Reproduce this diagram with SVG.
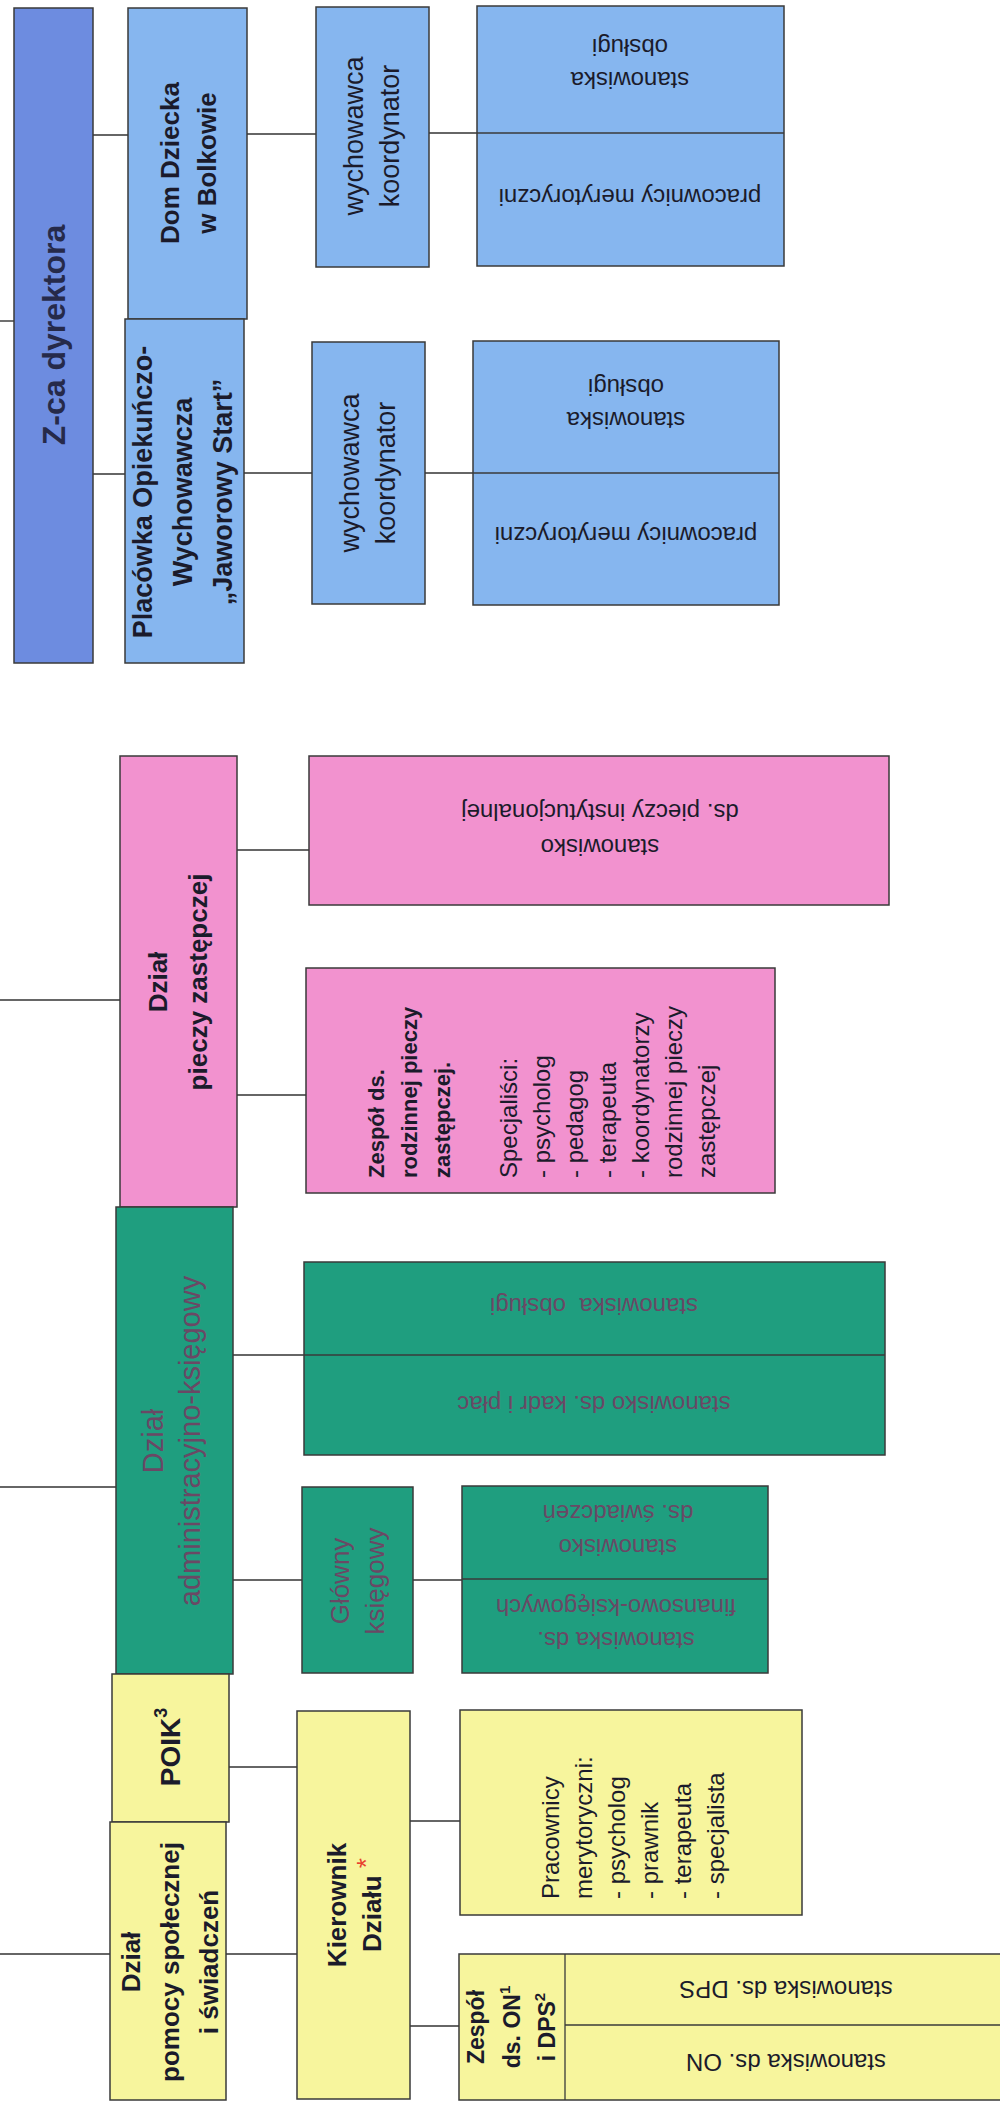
<svg xmlns="http://www.w3.org/2000/svg" width="1000" height="2102" viewBox="0 0 1000 2102">
<style>
.box{stroke:#3a3a3a;stroke-width:1.5}
.div{stroke:#3a3a3a;stroke-width:1.3}
.zca{fill:#6d8ce0}
.blue{fill:#86b6ef}
.pink{fill:#f292cf}
.green{fill:#1f9e7f}
.yellow{fill:#f7f59d}
.c{stroke:#333;stroke-width:1.4;fill:none}
text{font-family:"Liberation Sans",Arial,sans-serif;dominant-baseline:central;fill:#1b1b2b}
.r24{font-size:24px}
.r26{font-size:26px}
.b22{font-size:22px;font-weight:bold}
.b26{font-size:26px;font-weight:bold}
.gt{fill:#6a4865}
.m{text-anchor:middle}
</style>
<rect width="1000" height="2102" fill="#ffffff"/>

<g id="connectors">
<line class="c" x1="0" y1="321" x2="14" y2="321"/>
<line class="c" x1="93" y1="135" x2="128" y2="135"/>
<line class="c" x1="92" y1="474" x2="125" y2="474"/>
<line class="c" x1="247" y1="134" x2="316" y2="134"/>
<line class="c" x1="429" y1="133" x2="477" y2="133"/>
<line class="c" x1="244" y1="473" x2="312" y2="473"/>
<line class="c" x1="425" y1="473" x2="473" y2="473"/>
<line class="c" x1="0" y1="1000" x2="120" y2="1000"/>
<line class="c" x1="237" y1="850" x2="309" y2="850"/>
<line class="c" x1="237" y1="1095" x2="306" y2="1095"/>
<line class="c" x1="0" y1="1487" x2="116" y2="1487"/>
<line class="c" x1="233" y1="1355" x2="304" y2="1355"/>
<line class="c" x1="233" y1="1580" x2="302" y2="1580"/>
<line class="c" x1="413" y1="1580" x2="462" y2="1580"/>
<line class="c" x1="0" y1="1954" x2="110" y2="1954"/>
<line class="c" x1="229" y1="1767" x2="297" y2="1767"/>
<line class="c" x1="226" y1="1954" x2="297" y2="1954"/>
<line class="c" x1="410" y1="1821" x2="460" y2="1821"/>
<line class="c" x1="410" y1="2026" x2="459" y2="2026"/>
</g>

<g id="zca-dyrektora">
<rect class="box zca" x="14" y="8" width="79" height="655"/>
<g transform="translate(54,335) rotate(-90)"><text class="m" style="font-size:32px;font-weight:bold;fill:#262a4a" x="0" y="0">Z-ca dyrektora</text></g>
</g>

<g id="dom-dziecka">
<rect class="box blue" x="128" y="8" width="119" height="311"/>
<g transform="translate(188,163) rotate(-90)">
<text class="m b26" x="0" y="-18">Dom Dziecka</text>
<text class="m b26" x="0" y="19">w Bolkowie</text>
</g>
</g>

<g id="placowka">
<rect class="box blue" x="125" y="319" width="119" height="344"/>
<g transform="translate(183,492) rotate(-90)">
<text class="m" style="font-size:27px;font-weight:bold" x="0" y="-40">Placówka Opiekuńczo-</text>
<text class="m" style="font-size:27px;font-weight:bold" x="0" y="0">Wychowawcza</text>
<text class="m" style="font-size:27px;font-weight:bold" x="0" y="40">„Jaworowy Start”</text>
</g>
</g>

<g id="wychowawca-1">
<rect class="box blue" x="316" y="7" width="113" height="260"/>
<g transform="translate(372,136) rotate(-90)">
<text class="m" style="font-size:27px" x="0" y="-18">wychowawca</text>
<text class="m" style="font-size:27px" x="0" y="18">koordynator</text>
</g>
</g>

<g id="wychowawca-2">
<rect class="box blue" x="312" y="342" width="113" height="262"/>
<g transform="translate(368,473) rotate(-90)">
<text class="m" style="font-size:27px" x="0" y="-18">wychowawca</text>
<text class="m" style="font-size:27px" x="0" y="18">koordynator</text>
</g>
</g>

<g id="stanowiska-1">
<rect class="box blue" x="477" y="6" width="307" height="260"/>
<line class="div" x1="477" y1="133" x2="784" y2="133"/>
<g transform="translate(630,64) rotate(180)">
<text class="m r24" x="0" y="-16">stanowiska</text>
<text class="m r24" x="0" y="17">obsługi</text>
</g>
<g transform="translate(630,197) rotate(180)">
<text class="m r24" x="0" y="0">pracownicy merytoryczni</text>
</g>
</g>

<g id="stanowiska-2">
<rect class="box blue" x="473" y="341" width="306" height="264"/>
<line class="div" x1="473" y1="473" x2="779" y2="473"/>
<g transform="translate(626,404) rotate(180)">
<text class="m r24" x="0" y="-16">stanowiska</text>
<text class="m r24" x="0" y="17">obsługi</text>
</g>
<g transform="translate(626,535) rotate(180)">
<text class="m r24" x="0" y="0">pracownicy merytoryczni</text>
</g>
</g>

<g id="dzial-pieczy">
<rect class="box pink" x="120" y="756" width="117" height="451"/>
<g transform="translate(178,982) rotate(-90)">
<text class="m b26" x="0" y="-20">Dział</text>
<text class="m b26" x="0" y="20">pieczy zastępczej</text>
</g>
</g>

<g id="stanowisko-instytucjonalnej">
<rect class="box pink" x="309" y="756" width="580" height="149"/>
<g transform="translate(600,830) rotate(180)">
<text class="m r24" x="0" y="-17">stanowisko</text>
<text class="m r24" x="0" y="18">ds. pieczy instytucjonalnej</text>
</g>
</g>

<g id="zespol-rodzinnej">
<rect class="box pink" x="306" y="968" width="469" height="225"/>
<g transform="translate(0,1178) rotate(-90)">
<text class="b22" x="0" y="376">Zespół ds.</text>
<text class="b22" x="0" y="409">rodzinnej pieczy</text>
<text class="b22" x="0" y="442">zastępczej.</text>
<text class="r24" x="0" y="508">Specjaliści:</text>
<text class="r24" x="0" y="541">- psycholog</text>
<text class="r24" x="0" y="574">- pedagog</text>
<text class="r24" x="0" y="607">- terapeuta</text>
<text class="r24" x="0" y="640">- koordynatorzy</text>
<text class="r24" x="0" y="673">rodzinnej pieczy</text>
<text class="r24" x="0" y="706">zastępczej</text>
</g>
</g>

<g id="dzial-administracyjny">
<rect class="box green" x="116" y="1207" width="117" height="467"/>
<g transform="translate(172,1441) rotate(-90)">
<text class="m gt" style="font-size:29px" x="0" y="-19">Dział</text>
<text class="m gt" style="font-size:29px" x="0" y="18">administracyjno-księgowy</text>
</g>
</g>

<g id="stanowiska-kadr">
<rect class="box green" x="304" y="1262" width="581" height="193"/>
<line class="div" x1="304" y1="1355" x2="885" y2="1355"/>
<g transform="translate(594,1306) rotate(180)">
<text class="m r24 gt" x="0" y="0" xml:space="preserve">stanowiska  obsługi</text>
</g>
<g transform="translate(594,1404) rotate(180)">
<text class="m r24 gt" x="0" y="0">stanowisko ds. kadr i płac</text>
</g>
</g>

<g id="glowny-ksiegowy">
<rect class="box green" x="302" y="1487" width="111" height="186"/>
<g transform="translate(357,1581) rotate(-90)">
<text class="m r26 gt" x="0" y="-17">Główny</text>
<text class="m r26 gt" x="0" y="18">księgowy</text>
</g>
</g>

<g id="stanowiska-finansowe">
<rect class="box green" x="462" y="1486" width="306" height="187"/>
<line class="div" x1="462" y1="1579" x2="768" y2="1579"/>
<g transform="translate(618,1530) rotate(180)">
<text class="m r24 gt" x="0" y="-17">stanowisko</text>
<text class="m r24 gt" x="0" y="17">ds. świadczeń</text>
</g>
<g transform="translate(616,1624) rotate(180)">
<text class="m r24 gt" x="0" y="-16">stanowiska ds.</text>
<text class="m r24 gt" x="0" y="17">finansowo-księgowych</text>
</g>
</g>

<g id="poik">
<rect class="box yellow" x="112" y="1674" width="117" height="148"/>
<g transform="translate(170,1747) rotate(-90)">
<text class="m" style="font-size:28px;font-weight:bold" x="0" y="0">POIK<tspan style="font-size:18px" dy="-9">3</tspan></text>
</g>
</g>

<g id="dzial-pomocy">
<rect class="box yellow" x="110" y="1822" width="116" height="278"/>
<g transform="translate(170,1962) rotate(-90)">
<text class="m b26" x="0" y="-39">Dział</text>
<text class="m b26" x="0" y="0">pomocy społecznej</text>
<text class="m b26" x="0" y="39">i świadczeń</text>
</g>
</g>

<g id="kierownik">
<rect class="box yellow" x="297" y="1711" width="113" height="388"/>
<g transform="translate(354,1905) rotate(-90)">
<text class="m b26" x="0" y="-17">Kierownik</text>
<text class="m b26" x="0" y="18">Działu <tspan style="fill:#e8402f;font-weight:normal" dy="-6">*</tspan></text>
</g>
</g>

<g id="pracownicy">
<rect class="box yellow" x="460" y="1710" width="342" height="205"/>
<g transform="translate(0,1899) rotate(-90)">
<text class="r24" x="0" y="550">Pracownicy</text>
<text class="r24" x="0" y="583">merytoryczni:</text>
<text class="r24" x="0" y="616">- psycholog</text>
<text class="r24" x="0" y="649">- prawnik</text>
<text class="r24" x="0" y="682">- terapeuta</text>
<text class="r24" x="0" y="715">- specjalista</text>
</g>
</g>

<g id="zespol-on-dps">
<rect class="box yellow" x="459" y="1954" width="551" height="146"/>
<line class="div" x1="565" y1="1954" x2="565" y2="2100"/>
<line class="div" x1="565" y1="2025" x2="1010" y2="2025"/>
<g transform="translate(512,2027) rotate(-90)">
<text class="m" style="font-size:23px;font-weight:bold" x="0" y="-36">Zespół</text>
<text class="m" style="font-size:23px;font-weight:bold" x="0" y="0">ds. ON<tspan style="font-size:15px" dy="-8">1</tspan></text>
<text class="m" style="font-size:23px;font-weight:bold" x="0" y="35">i DPS<tspan style="font-size:15px" dy="-8">2</tspan></text>
</g>
<g transform="translate(786,1989) rotate(180)">
<text class="m r24" x="0" y="0">stanowiska ds. DPS</text>
</g>
<g transform="translate(786,2062) rotate(180)">
<text class="m r24" x="0" y="0">stanowiska ds. ON</text>
</g>
</g>
</svg>
